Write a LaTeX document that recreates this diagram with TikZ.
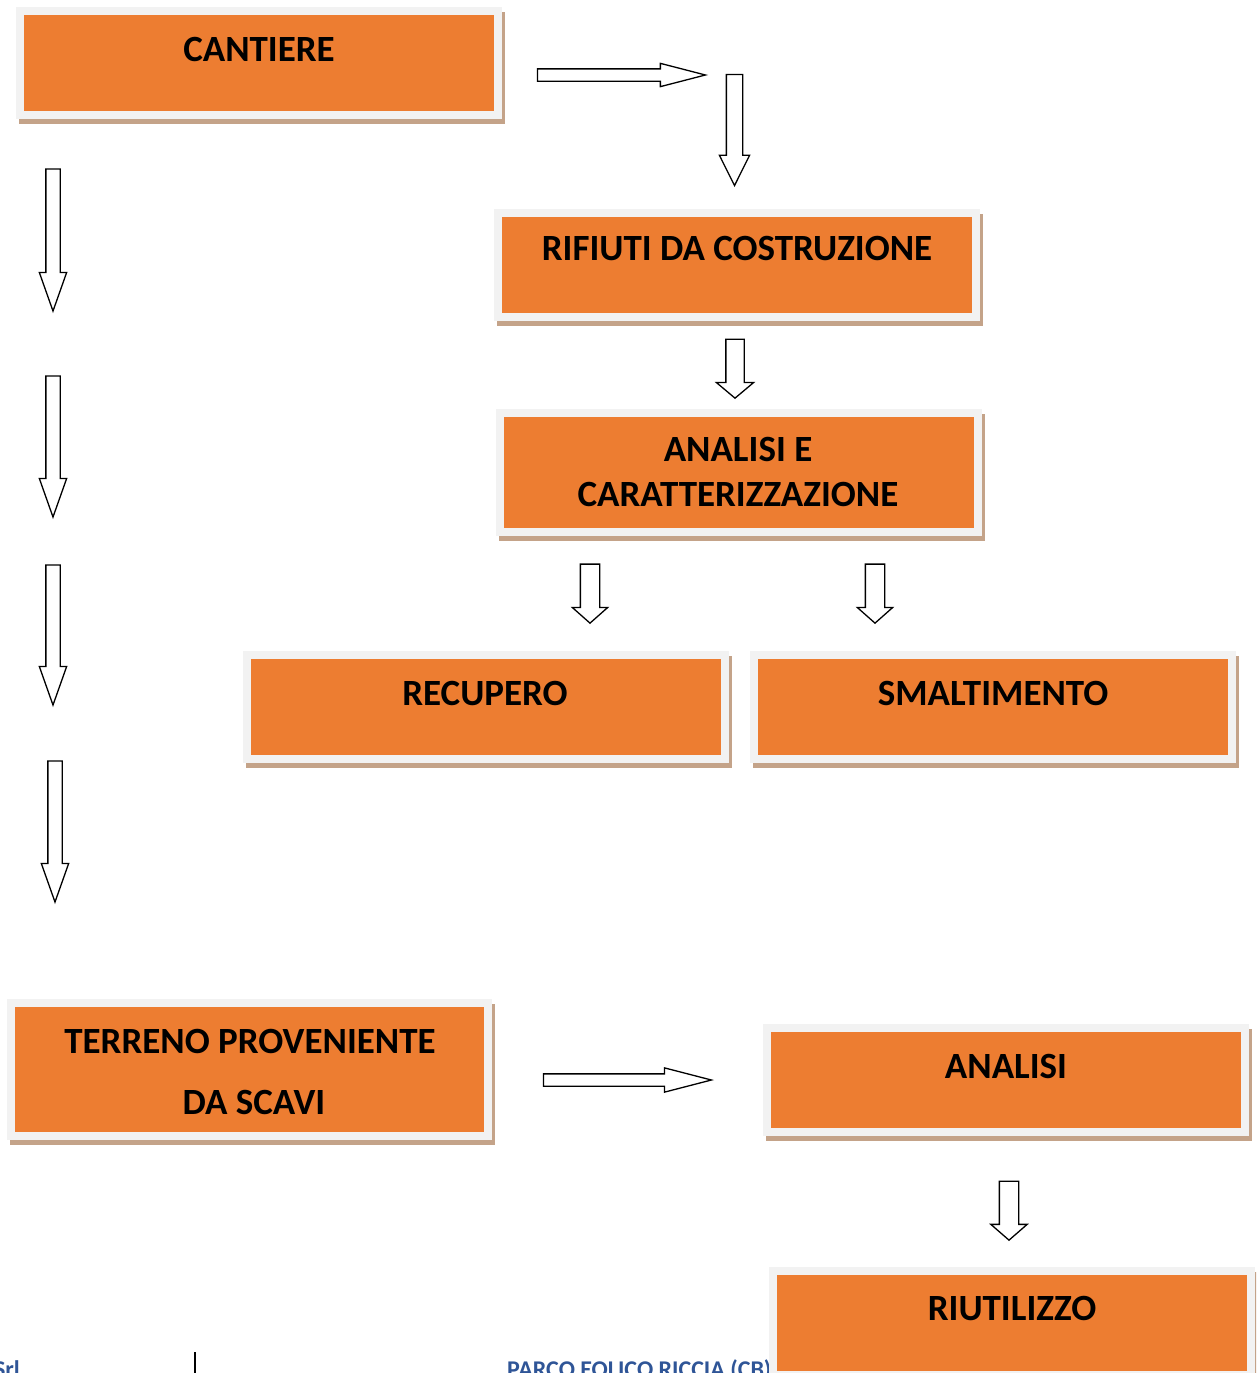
\documentclass[tikz,border=0pt]{standalone}
\usepackage{fontspec}
\setmainfont{Carlito}
\usetikzlibrary{shapes.arrows,positioning}

\definecolor{boxorange}{HTML}{ED7D31}
\definecolor{framegray}{HTML}{F2F2F2}
\definecolor{shadowtan}{HTML}{C4A389}
\definecolor{footblue}{HTML}{2F5597}

\begin{document}
\begin{tikzpicture}[
      x=1pt, y=-1pt,
      wastebox/.style={draw=framegray, fill=boxorange, line width=8pt, inner sep=0pt,
        minimum width=478pt, minimum height=104pt,
        preaction={draw=shadowtan, fill=shadowtan,
          transform canvas={xshift=3pt, yshift=-5pt}}},
      boxtext/.style={font=\fontsize{37}{44}\selectfont\bfseries, inner sep=0pt},
      footer/.style={font=\fontsize{24}{28}\selectfont\bfseries, text=footblue, inner sep=0pt},
      blockarrow/.style={single arrow, draw=black, fill=white, line width=1.3pt,
        anchor=tip, single arrow head indent=0pt},
      longarrow/.style={blockarrow, inner sep=5.5pt, single arrow head extend=6pt,
        single arrow tip angle=29, minimum height=168pt},
      sidearrow/.style={blockarrow, shape border rotate=270, inner sep=6.5pt,
        single arrow head extend=6.5pt, single arrow tip angle=39},
      shortarrow/.style={blockarrow, shape border rotate=270, inner sep=9pt,
        single arrow head extend=8.5pt, single arrow tip angle=98, minimum height=59pt}
      ]

      \useasboundingbox (0,0) rectangle (1256,1373);
      \clip (0,0) rectangle (1256,1373);

      % footer of the page
      \node[footer, anchor=base east] (srl) at (20,1377) {Srl};
      \node[footer, anchor=base west] (parco) at (507,1377) {PARCO EOLICO RICCIA (CB)};
      \draw[line width=1.5pt] (195,1352) -- (195,1373);

      % boxes
      \node[wastebox] (cantiere) at (259,63) {};
      \node[wastebox] (rifiuti) at (737,264.5) {};
      \node[wastebox, minimum height=119pt] (caratt) at (739,472.5) {};
      \node[wastebox] (recupero) at (486,707) {};
      \node[wastebox] (smaltimento) at (993,707) {};
      \node[wastebox, minimum width=477pt, minimum height=133pt] (terreno) at (249.5,1069.5) {};
      \node[wastebox] (analisi) at (1006,1080) {};
      \node[wastebox] (riutilizzo) at (1011.5,1323) {};

      \node[boxtext] (cantiere-t) at (259,49) {CANTIERE};
      \node[boxtext] (rifiuti-t) at (737,249) {RIFIUTI DA COSTRUZIONE};
      \node[boxtext] (caratt-t1) at (738,449) {ANALISI E};
      \node[boxtext] (caratt-t2) at (738,494) {CARATTERIZZAZIONE};
      \node[boxtext] (recupero-t) at (485,693) {RECUPERO};
      \node[boxtext] (smaltimento-t) at (993,693) {SMALTIMENTO};
      \node[boxtext] (terreno-t1) at (250,1041) {TERRENO PROVENIENTE};
      \node[boxtext] (terreno-t2) at (254,1102) {DA SCAVI};
      \node[boxtext] (analisi-t) at (1006,1066) {ANALISI};
      \node[boxtext] (riutilizzo-t) at (1012,1308) {RIUTILIZZO};

      % block arrows
      \node[longarrow, single arrow head extend=5.5pt] (a1) at (708,75) {};
      \node[blockarrow, shape border rotate=270, inner sep=7.5pt,
        single arrow head extend=7pt, single arrow tip angle=53,
        minimum height=111pt] (a2) at (734.5,187) {};
      \node[shortarrow, inner sep=8.5pt, single arrow head extend=9.5pt,
        single arrow tip angle=100] (a3) at (735,399) {};
      \node[shortarrow, single arrow head extend=8pt, single arrow tip angle=97] (a4) at (590,624) {};
      \node[shortarrow, single arrow head extend=8pt, single arrow tip angle=97] (a5) at (875,624) {};

      \node[sidearrow, minimum height=142pt] (s1) at (53,313) {};
      \node[sidearrow, minimum height=141pt] (s2) at (53,519) {};
      \node[sidearrow, minimum height=140pt] (s3) at (53,707) {};
      \node[sidearrow, minimum height=141pt] (s4) at (55,904) {};

      \node[longarrow] (a6) at (714,1080) {};
      \node[shortarrow] (a7) at (1009,1241) {};

    \end{tikzpicture}
\end{document}
